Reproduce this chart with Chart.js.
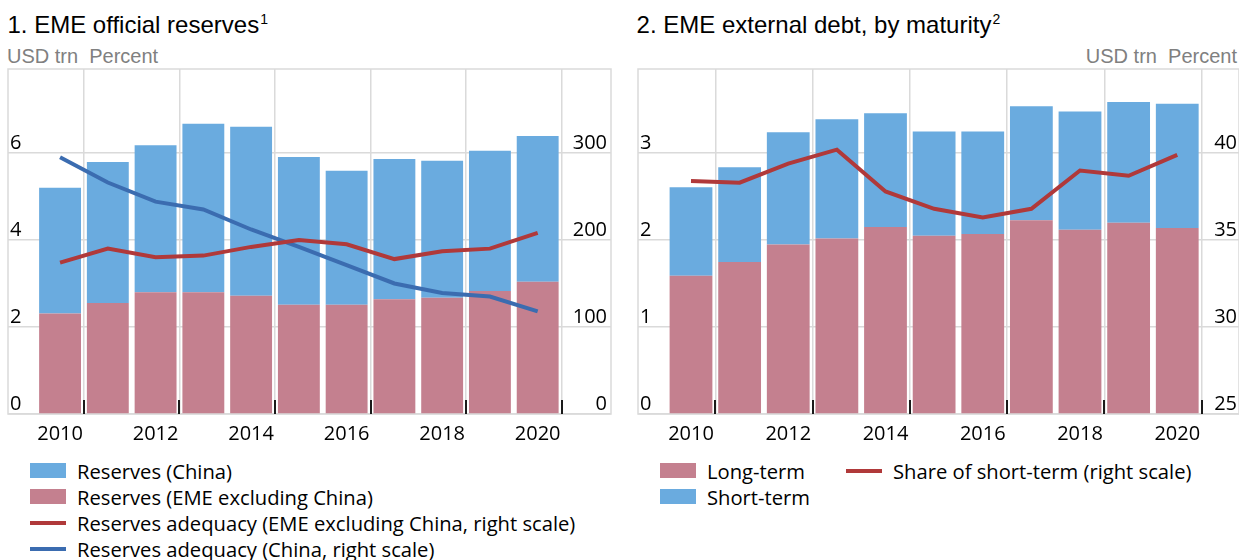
<!DOCTYPE html>
<html>
<head>
<meta charset="utf-8">
<script src="https://cdn.jsdelivr.net/npm/chart.js@4.4.1/dist/chart.umd.min.js"></script>
<style>
  body { margin: 0; width: 1239px; height: 560px; background: #fff; position: relative; overflow: hidden; }
  .title { position: absolute; font-family: "Liberation Sans", Arial, sans-serif; font-size: 24px; line-height: 24px; color: #000; white-space: nowrap; }
  .title sup { font-size: 14px; line-height: 0; vertical-align: 9px; margin-left: 1px; }
  .units { position: absolute; font-family: "Liberation Sans", Arial, sans-serif; font-size: 20px; line-height: 20px; color: #808080; white-space: nowrap; }
  .panel { position: absolute; top: 0; }
  .legend { position: absolute; top: 457.5px; font-family: "Open Sans", sans-serif; font-size: 20.2px; color: #000; }
  .legend-item { display: flex; align-items: center; height: 26px; white-space: nowrap; }
  .swatch { width: 36px; height: 15px; margin-right: 11px; flex: none; }
  .swatch.line { height: 4px; }
</style>
</head>
<body>
  <div class="title" style="left:7.5px; top:12.7px">1. EME official reserves<sup>1</sup></div>
  <div class="units" style="left:7px; top:46.4px">USD trn&nbsp; Percent</div>
  <div class="panel" style="left:0"><canvas id="reservesChart" width="620" height="450"></canvas></div>
  <div class="legend" id="reservesLegend" style="left:30px"></div>

  <div class="title" style="left:636.6px; top:12.7px">2. EME external debt, by maturity<sup>2</sup></div>
  <div class="units" style="right:2px; top:46.4px">USD trn&nbsp; Percent</div>
  <div class="panel" style="left:620px"><canvas id="debtChart" width="619" height="450"></canvas></div>
  <div class="legend" id="debtLegendLeft" style="left:660px"></div>
  <div class="legend" id="debtLegendRight" style="left:846px"></div>

<script>
// ----- DATA -----
const years = [2010, 2011, 2012, 2013, 2014, 2015, 2016, 2017, 2018, 2019, 2020];
const yearTicks = [2010, 2012, 2014, 2016, 2018, 2020];

// Panel 1: reserves, USD trn (left) and adequacy, percent (right)
const reservesChina = [2.89, 3.24, 3.38, 3.87, 3.88, 3.40, 3.08, 3.22, 3.15, 3.22, 3.35];
const reservesExChina = [2.31, 2.55, 2.80, 2.80, 2.72, 2.51, 2.51, 2.64, 2.67, 2.83, 3.04];
const adequacyExChina = [174, 190, 180, 182, 192, 200, 195, 178, 187, 190, 208];
const adequacyChina = [295, 266, 244, 235, 212, 192, 171, 150, 139, 135, 118];
const reservesUsdTicks = [0, 2, 4, 6];
const reservesPctTicks = [0, 100, 200, 300];

// Panel 2: external debt, USD trn (left) and short-term share, percent (right)
const debtLongTerm = [1.59, 1.75, 1.95, 2.02, 2.15, 2.05, 2.07, 2.23, 2.12, 2.20, 2.14];
const debtShortTerm = [1.02, 1.09, 1.29, 1.37, 1.31, 1.20, 1.18, 1.31, 1.36, 1.39, 1.43];
const shortTermShare = [38.4, 38.3, 39.4, 40.2, 37.8, 36.8, 36.3, 36.8, 39.0, 38.7, 39.9];
const debtUsdTicks = [0, 1, 2, 3];
const debtPctTicks = [25, 30, 35, 40];

// ----- STYLE -----
const colors = {
    blueBar: '#6aabdf',
    pinkBar: '#c4808f',
    redLine: '#b0393a',
    blueLine: '#3b6cb0',
    grid: '#dadada'
};

Chart.defaults.font.family = "'Open Sans', sans-serif";
Chart.defaults.font.size = 20;
Chart.defaults.color = '#000';

function points(values) {
    return years.map((year, i) => ({ x: year, y: values[i] }));
}

// Frame round the plot area and the small black marks at the bottom
const framePlugin = {
    id: 'frame',
    beforeDatasetsDraw(chart) {
        const { ctx, chartArea: a } = chart;
        ctx.save();
        ctx.strokeStyle = colors.grid;
        ctx.lineWidth = 1.5;
        ctx.strokeRect(a.left, a.top, a.right - a.left, a.bottom - a.top);
        ctx.restore();
    },
    afterDatasetsDraw(chart) {
        const { ctx, chartArea: a } = chart;
        const x = chart.scales.x;
        ctx.save();
        ctx.strokeStyle = '#1a1a1a';
        ctx.lineWidth = 2;
        x.ticks.forEach(t => {
            if (yearTicks.includes(t.value)) return;
            const px = Math.round(x.getPixelForValue(t.value));
            ctx.beginPath();
            ctx.moveTo(px, a.bottom);
            ctx.lineTo(px, a.bottom - 14);
            ctx.stroke();
        });
        ctx.restore();
    }
};

/**
 * Builds one panel: stacked bars on the left scale, lines on the right scale
 */
function createPanel(canvasId, cfg) {
    const datasets = [];
    cfg.lines.forEach(l => datasets.push({
        type: 'line', label: l.label, data: points(l.values), yAxisID: 'y1',
        borderColor: l.color, borderWidth: 4, pointRadius: 0, tension: 0, order: 0
    }));
    // The bar ruler sees the half-year grid ticks, so one year is two "categories"
    cfg.bars.forEach(b => datasets.push({
        type: 'bar', label: b.label, data: points(b.values), yAxisID: 'y',
        backgroundColor: b.color, categoryPercentage: 2, barPercentage: cfg.barPct, order: 1
    }));

    return new Chart(document.getElementById(canvasId), {
        type: 'bar',
        data: { datasets: datasets },
        options: {
            responsive: false,
            animation: false,
            layout: { padding: cfg.padding },
            plugins: { legend: { display: false }, tooltip: { enabled: false } },
            scales: {
                x: {
                    type: 'linear', min: 2008.91, max: cfg.xMax, stacked: true, offset: false,
                    afterBuildTicks: s => { s.ticks = yearTicks.flatMap(y => [{ value: y }, { value: y + 0.5 }]); },
                    afterFit: s => { s.height = 36; },
                    grid: {
                        offset: false, drawTicks: false, lineWidth: 1.5,
                        color: c => (c.tick && yearTicks.includes(c.tick.value)) ? 'transparent' : colors.grid
                    },
                    border: { display: false },
                    ticks: {
                        autoSkip: false, maxRotation: 0, padding: 8,
                        callback: v => yearTicks.includes(v) ? String(v) : ''
                    }
                },
                y: {
                    position: 'left', min: 0, max: cfg.leftMax, stacked: true,
                    afterBuildTicks: s => { s.ticks = cfg.leftTicks.map(v => ({ value: v })); },
                    afterFit: s => { s.width = 0; },
                    grid: { color: colors.grid, lineWidth: 1.5, drawTicks: false },
                    border: { display: false },
                    ticks: { mirror: true, padding: 2, labelOffset: -10 }
                },
                y1: {
                    position: 'right', min: cfg.rightMin, max: cfg.rightMax,
                    afterBuildTicks: s => { s.ticks = cfg.rightTicks.map(v => ({ value: v })); },
                    afterFit: s => { s.width = 0; },
                    grid: { display: false },
                    border: { display: false },
                    ticks: { mirror: true, padding: cfg.rightPad, labelOffset: -10 }
                }
            }
        },
        plugins: [framePlugin]
    });
}

/**
 * HTML legend rows
 */
function renderLegend(containerId, items) {
    const box = document.getElementById(containerId);
    items.forEach(item => {
        const row = document.createElement('div');
        row.className = 'legend-item';
        const sw = document.createElement('span');
        sw.className = 'swatch' + (item.kind === 'line' ? ' line' : '');
        sw.style.background = item.color;
        row.appendChild(sw);
        row.appendChild(document.createTextNode(item.label));
        box.appendChild(row);
    });
}

// ----- PANEL 1 -----
createPanel('reservesChart', {
    xMax: 2021.535, barPct: 0.877, rightPad: -4,
    padding: { left: 8, right: 9, top: 69, bottom: 0 },
    leftMax: 7.93, leftTicks: reservesUsdTicks,
    rightMin: 0, rightMax: 396.4, rightTicks: reservesPctTicks,
    bars: [
        { label: 'Reserves (EME excluding China)', values: reservesExChina, color: colors.pinkBar },
        { label: 'Reserves (China)', values: reservesChina, color: colors.blueBar }
    ],
    lines: [
        { label: 'Reserves adequacy (EME excluding China, right scale)', values: adequacyExChina, color: colors.redLine },
        { label: 'Reserves adequacy (China, right scale)', values: adequacyChina, color: colors.blueLine }
    ]
});

renderLegend('reservesLegend', [
    { label: 'Reserves (China)', color: colors.blueBar, kind: 'box' },
    { label: 'Reserves (EME excluding China)', color: colors.pinkBar, kind: 'box' },
    { label: 'Reserves adequacy (EME excluding China, right scale)', color: colors.redLine, kind: 'line' },
    { label: 'Reserves adequacy (China, right scale)', color: colors.blueLine, kind: 'line' }
]);

// ----- PANEL 2 -----
createPanel('debtChart', {
    xMax: 2021.27, barPct: 0.88, rightPad: -2,
    padding: { left: 18, right: 0, top: 69, bottom: 0 },
    leftMax: 3.969, leftTicks: debtUsdTicks,
    rightMin: 25, rightMax: 44.84, rightTicks: debtPctTicks,
    bars: [
        { label: 'Long-term', values: debtLongTerm, color: colors.pinkBar },
        { label: 'Short-term', values: debtShortTerm, color: colors.blueBar }
    ],
    lines: [
        { label: 'Share of short-term (right scale)', values: shortTermShare, color: colors.redLine }
    ]
});

renderLegend('debtLegendLeft', [
    { label: 'Long-term', color: colors.pinkBar, kind: 'box' },
    { label: 'Short-term', color: colors.blueBar, kind: 'box' }
]);
renderLegend('debtLegendRight', [
    { label: 'Share of short-term (right scale)', color: colors.redLine, kind: 'line' }
]);
</script>
</body>
</html>
